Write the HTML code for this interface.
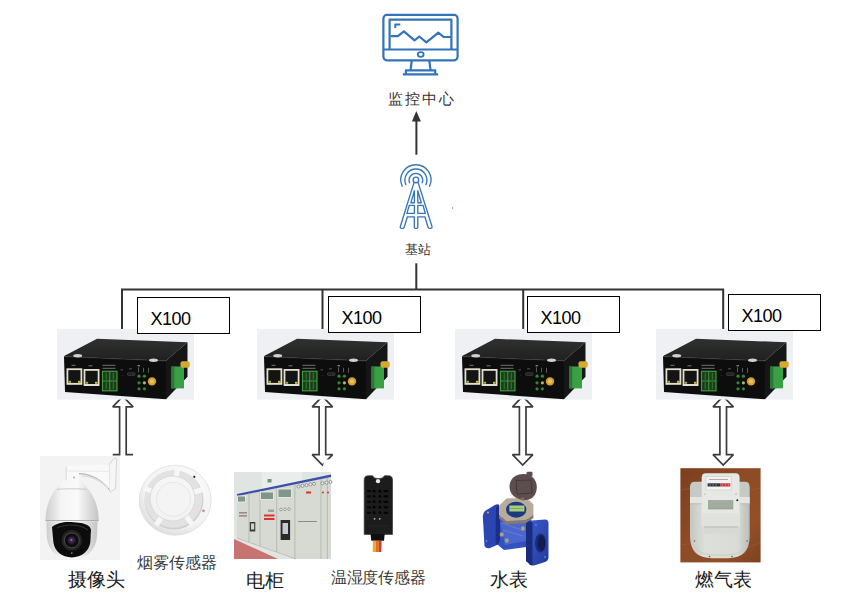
<!DOCTYPE html>
<html><head><meta charset="utf-8">
<style>
html,body{margin:0;padding:0;background:#fff;width:860px;height:607px;overflow:hidden;position:relative}
.t{position:absolute;white-space:nowrap;font-family:"Liberation Sans",sans-serif;line-height:1}
.x{position:absolute;box-sizing:border-box;border:1px solid #000;background:#fff;width:93px;height:37px}
.x span{position:absolute;left:12.5px;top:12px;font-family:"Liberation Sans",sans-serif;font-size:18px;letter-spacing:-0.5px;color:#000;line-height:1}
svg{position:absolute;left:0;top:0}
</style></head><body>
<svg id="base" width="860" height="607" viewBox="0 0 860 607">
<defs>
<symbol id="dev" viewBox="0 0 137 71" width="137" height="71">
  <rect x="0" y="0" width="137" height="71" fill="#eef0f4"/>
  <defs>
    <linearGradient id="topg" x1="0" y1="0" x2="0" y2="1">
      <stop offset="0" stop-color="#303030"/><stop offset="1" stop-color="#202020"/>
    </linearGradient>
  </defs>
  <!-- top face -->
  <path d="M7,27.6 Q8,26.5 10,25.8 L40,10 L130.5,13.5 L109,32 Z" fill="url(#topg)"/>
  <!-- right side -->
  <polygon points="109,32 130.5,13.5 130.5,48 109,70.4" fill="#161616"/>
  <!-- front face -->
  <polygon points="7,27.6 109,32 109,70.4 8,63.2" fill="#0d0d0d"/>
  <path d="M7.5,27.8 L109,32.2" stroke="#3a3a3a" stroke-width="0.6"/>
  <ellipse cx="20.7" cy="27" rx="4.5" ry="1.7" fill="#d0d0d0"/>
  <ellipse cx="96.5" cy="31.4" rx="4.5" ry="1.7" fill="#d0d0d0"/>
  <!-- rj45 -->
  <rect x="9.5" y="39.5" width="15.8" height="16.5" fill="#e2dfcf"/>
  <rect x="11.3" y="41.3" width="12.2" height="12.8" fill="#141414"/>
  <rect x="26.6" y="40.2" width="15.9" height="17" fill="#e2dfcf"/>
  <rect x="28.4" y="42" width="12.3" height="13.2" fill="#141414"/>
  <rect x="11.5" y="52" width="2.5" height="2" fill="#9ab83a"/>
  <rect x="21" y="52" width="2.5" height="2" fill="#d8c030"/>
  <rect x="28.6" y="53" width="2.5" height="2" fill="#9ab83a"/>
  <rect x="38" y="53" width="2.5" height="2" fill="#d8c030"/>
  <path d="M14.5,36.5h4M31.5,37h4" stroke="#777" stroke-width="1"/>
  <!-- terminal -->
  <rect x="45.5" y="42.5" width="14.5" height="19.5" fill="#1c3a1c" stroke="#3c9c3c" stroke-width="1.2"/>
  <path d="M52.75,43v18.5M45.5,52.2h14.5" stroke="#3c9c3c" stroke-width="1"/>
  <path d="M49.2,44v7M56.3,44v7M49.2,53.5v7M56.3,53.5v7" stroke="#2e7a2e" stroke-width="1.1"/>
  <path d="M45.5,36.5h13M45.5,39.5h13" stroke="#8a8a8a" stroke-width="0.8"/>
  <rect x="70.5" y="44" width="7.5" height="2.6" rx="0.8" fill="#202020" stroke="#505050" stroke-width="0.6"/>
  <path d="M63.5,41h2.5M72,40h3" stroke="#666" stroke-width="0.8"/>
  <circle cx="65.5" cy="47" r="0.8" fill="#2a2a2a"/>
  <!-- leds -->
  <circle cx="82" cy="47.4" r="1.6" fill="#2f8a2f"/>
  <circle cx="87.4" cy="47.4" r="1.6" fill="#2f8a2f"/>
  <circle cx="82" cy="54" r="1.6" fill="#2f8a2f"/>
  <circle cx="87.4" cy="54" r="1.6" fill="#c0a878"/>
  <circle cx="82" cy="60" r="1.6" fill="#2f8a2f"/>
  <circle cx="87.4" cy="60" r="1.6" fill="#2f8a2f"/>
  <path d="M81.5,43.5v-5M86.5,43.5v-4.5M91.5,44v-5" stroke="#7a7a7a" stroke-width="0.7"/>
  <path d="M80.5,37h2.5" stroke="#aaa" stroke-width="1"/>
  <circle cx="95" cy="52.6" r="4.2" fill="#d0a030"/>
  <circle cx="95" cy="52.6" r="2.2" fill="#e8c060"/>
  <!-- right green block -->
  <rect x="114.3" y="37.7" width="12.7" height="21.9" fill="#3aa046"/>
  <rect x="114.3" y="37.7" width="3" height="21.9" fill="#2a7833"/>
  <rect x="123.5" y="32.5" width="9.2" height="6.5" rx="2" fill="#d4aa30"/>
  <path d="M114,27 L122,20" stroke="#333" stroke-width="1.2"/>
</symbol>
</defs>

<!-- monitor icon -->
<g fill="none" stroke="#3473bc" stroke-width="2.2" stroke-linejoin="round">
  <rect x="383.4" y="14.9" width="74.2" height="45.4" rx="3.5"/>
  <path d="M389.6,49.5V19.6H451.4V49.5"/>
  <path d="M383.7,49.5H457.6"/>
  <ellipse cx="420.7" cy="54.5" rx="2.9" ry="2.3" stroke-width="1.8"/>
  <path d="M411.8,60.5L410.5,70.3M429.3,60.5L430.6,70.3"/>
  <path d="M405.9,74.3V70.3H435.2V74.3"/>
  <path d="M402.9,74.3H438.1"/>
  <path d="M390.8,36.1H397.9L403.9,31.4L414.5,40.3L419.3,36.5L426.4,42.4L438.3,32.7L443.6,37H451.3"/>
  <path d="M395.3,28V24.5H400.3" stroke-width="1.9"/>
</g>

<!-- arrow up to monitor -->
<path d="M416.4,154.7V120" stroke="#333" stroke-width="2"/>
<polygon points="416.3,110.9 420.9,121.5 411.9,121.5" fill="#333"/>

<!-- tower icon -->
<g fill="none" stroke="#3775be" stroke-width="1.35" stroke-linecap="round" stroke-linejoin="round">
  <circle cx="415.9" cy="179.9" r="2.8"/>
  <path d="M409.6,182.8A6.8,6.8 0 1 1 422.2,182.8"/>
  <path d="M405.9,184.6A11,11 0 1 1 425.9,184.6"/>
  <path d="M402.2,186.2A15.1,15.1 0 1 1 429.6,186.2"/>
  <path d="M413.9,182.9L400.3,226.5Q400,228.3 401.6,228.3H403Q404,228.3 404.3,227L407.4,216.8H414.3V227.3Q414.3,228.3 415.3,228.3H416.8Q417.8,228.3 417.8,227.3V216.8H424.9L428,227Q428.3,228.3 429.3,228.3H430.7Q432.3,228.3 432,226.5L418.2,182.9"/>
  <path d="M409.3,205.3H414.4V213.4H406.9Z"/>
  <path d="M417.8,205.3H423L425.3,213.4H417.8Z"/>
  <path d="M414.4,190.6V202.7H410.9Z"/>
  <path d="M417.8,190.6V202.7H421.3Z"/>
</g>
<rect x="452" y="207" width="1.2" height="2" fill="#8ab0dc"/>

<!-- bus -->
<g stroke="#333" stroke-width="2" fill="none">
  <path d="M416.3,263.3V289.5"/>
  <path d="M122,331V289.5H723.2V331"/>
  <path d="M322.5,289.5V331"/>
  <path d="M523.2,289.5V331"/>
</g>

<!-- hollow arrows -->
<g fill="#fff" stroke="#3c3c3c" stroke-width="1.7" stroke-linejoin="miter" stroke-miterlimit="2">
  <path fill="none" d="M133.1,454.6H126.2V406.8H133.1L122.9,396.3L112.7,406.8H119.6V454.6H112.7"/>
  <path d="M322.4,396.3L332.6,406.8H325.7V454.6H332.6L322.4,465.1L312.2,454.6H319.1V406.8H312.2Z"/>
  <path d="M522.7,396.3L532.9,406.8H526.0V454.6H532.9L522.7,465.1L512.5,454.6H519.4V406.8H512.5Z"/>
  <path d="M723.2,396.3L733.4,406.8H726.5V454.6H733.4L723.2,465.1L713.0,454.6H719.9V406.8H713.0Z"/>
</g>

<polygon points="323.4,466 323.4,462 326,459.6 345,459.6 345,471 323.4,471" fill="#fff"/>
<!-- camera -->
<g id="camera">
  <rect x="40" y="456" width="80" height="104" fill="#f3f3f3"/>
  <defs>
    <linearGradient id="domeg" x1="0" y1="0" x2="1" y2="0">
      <stop offset="0" stop-color="#cdcdcd"/><stop offset="0.3" stop-color="#f5f5f5"/><stop offset="0.6" stop-color="#fafafa"/><stop offset="1" stop-color="#c4c4c4"/>
    </linearGradient>
    <radialGradient id="lensg" cx="0.45" cy="0.45" r="0.6">
      <stop offset="0" stop-color="#b080d0"/><stop offset="0.3" stop-color="#402858"/><stop offset="1" stop-color="#141414"/>
    </radialGradient>
  </defs>
  <!-- wall plate -->
  <path d="M109,464.7 L114.3,458.2 Q116.6,457.8 116.6,460 L115.5,488.5 L110.5,492 Q109.5,492 109.5,490 Z" fill="#f6f6f6" stroke="#c0c0c0" stroke-width="0.6"/>
  <!-- arm -->
  <path d="M66.4,467 Q66.6,465.9 68,465.9 L109,464.7 L109.7,490 C103,482 95,474 79,473.2 L79,480.5 L66,480.5 Z" fill="#f9f9f9"/>
  <path d="M79,473.6 C95,474.5 103,482 109.7,490" fill="none" stroke="#b8b8b8" stroke-width="1.1"/>
  <path d="M82,476 C95,477 102,482.5 108,488" fill="none" stroke="#dcdcdc" stroke-width="1.2"/>
  <path d="M66.7,471 L109,471.3" stroke="#e4e4e4" stroke-width="0.8"/>
  <path d="M66.2,466.5 V480.5" stroke="#d4d4d4" stroke-width="0.8"/>
  <circle cx="74" cy="477.5" r="0.9" fill="#a8a8a8"/>
  <!-- dome -->
  <path d="M45.5,520.5 C45.5,503 53,490 63.4,480.5 H80.3 C91,490 98.7,503 98.7,520.5 Z" fill="url(#domeg)"/>
  <path d="M57,489.4 C64,488.6 80,488.6 86.7,489.4" fill="none" stroke="#c0c0c0" stroke-width="0.8"/>
  <path d="M45.5,520.6 H98.7" stroke="#a8a8a8" stroke-width="1"/>
  <!-- lower housing -->
  <path d="M46.4,521.3 H97.5 L97,536 C96,551 85,559.5 71.8,559.5 C58.5,559.5 47.6,551 46.8,536 Z" fill="url(#domeg)"/>
  <!-- black front -->
  <path d="M52,527 C56,523.5 62,522 68.3,522 C76,522 83,523 86.7,524.8 C89,526 90.5,527.5 91,529.8 L90.3,542.5 C89,551 81.5,557.4 71.8,557.4 C62,557.4 54.5,551 53.4,542.5 Z" fill="#0c0c0c"/>
  <path d="M57,528 C66,523.5 80,524 88,530" fill="none" stroke="#3c3c3c" stroke-width="0.9"/>
  <circle cx="71.8" cy="540.4" r="10.3" fill="#242424"/>
  <circle cx="71.8" cy="540.4" r="7.5" fill="#0e0e0e" stroke="#505050" stroke-width="0.9"/>
  <circle cx="71.8" cy="540.4" r="4.2" fill="url(#lensg)"/>
  <circle cx="71.8" cy="553.1" r="0.9" fill="#4090d0"/>
</g>

<!-- smoke detector -->
<g id="smoke">
  <defs>
    <radialGradient id="smk" cx="0.6" cy="0.35" r="0.75">
      <stop offset="0" stop-color="#fdfdfd"/><stop offset="0.7" stop-color="#f3f3f3"/><stop offset="1" stop-color="#d2d2d2"/>
    </radialGradient>
    <radialGradient id="smkc" cx="0.55" cy="0.4" r="0.7">
      <stop offset="0" stop-color="#fafafa"/><stop offset="0.85" stop-color="#f2f2f2"/><stop offset="1" stop-color="#dadada"/>
    </radialGradient>
  </defs>
  <ellipse cx="175.2" cy="500.2" rx="36" ry="35" fill="url(#smk)" stroke="#dedede" stroke-width="0.8"/>
  <circle cx="174" cy="500" r="29.5" fill="#cfcfcf"/>
  <circle cx="173.6" cy="499" r="28.8" fill="#e2e2e2"/>
  <path d="M176.1,478.7L177.3,468.7M193.4,492.7L202.8,489.4M186.1,516.3L192.2,524.3M161.8,516.9L156.2,525.2M153.9,492.0L144.6,488.4" stroke="#f7f7f7" stroke-width="5"/>
  <circle cx="172.5" cy="498.5" r="22.5" fill="url(#smkc)" stroke="#d6d6d6" stroke-width="0.8"/>
  <circle cx="173.5" cy="499.2" r="17" fill="#f4f4f4" stroke="#e2e2e2" stroke-width="0.8"/>
  <circle cx="194.3" cy="476.8" r="1.1" fill="#1a1a1a"/>
  <circle cx="203.5" cy="510.8" r="1.4" fill="#c89090"/>
</g>

<!-- electrical cabinet -->
<g id="cabinet">
  <rect x="234" y="472" width="97" height="87" fill="#dfe5e3"/>
  <rect x="262" y="472" width="40" height="20" fill="#e9edec"/>
  <polygon points="234,539 234,559 278,559" fill="#c87272"/>
  <polygon points="237,495.5 331,476.5 331,559 296,559 237,538" fill="#d6dad3"/>
  <polygon points="237,494 331,474.5 331,477 237,496.2" fill="#3d4fa8"/>
  <g stroke="#a8aca4" stroke-width="0.7" fill="none">
    <path d="M249,493V542 M260,491V546 M276.7,488V552 M294.9,485V559 M321,479V559 M327.3,478V559"/>
    <path d="M237,538 L296,559" stroke="#b4b0a8"/>
  </g>
  <rect x="237.5" y="496" width="8" height="6" fill="#7f978a" stroke="#e6eae6" stroke-width="0.9"/>
  <rect x="260.5" y="492" width="13" height="7.5" fill="#7f978a" stroke="#e6eae6" stroke-width="0.9"/>
  <rect x="278" y="489" width="13.5" height="8.5" fill="#7f978a" stroke="#e6eae6" stroke-width="0.9"/>
  <g fill="#f4f6f6" stroke="#6a7078" stroke-width="0.7"><circle cx="298.5" cy="486.5" r="1.5"/><circle cx="302.5" cy="485.8" r="1.5"/><circle cx="306.5" cy="485.1" r="1.5"/><circle cx="310.5" cy="484.4" r="1.5"/><circle cx="314" cy="483.8" r="1.5"/><circle cx="322.5" cy="483.3" r="1.5"/><circle cx="326.5" cy="482.6" r="1.5"/><circle cx="330.5" cy="482" r="1.5"/></g>
  <rect x="267.5" y="479" width="4" height="3.5" fill="#6a9a6a"/>
  <g fill="#f0f2f2" stroke="#707070" stroke-width="0.6"><circle cx="281" cy="509.5" r="1.3"/><circle cx="285" cy="509.3" r="1.3"/><circle cx="289" cy="509.1" r="1.3"/></g>
  <rect x="264" y="514.5" width="10.5" height="2" fill="#e03030"/>
  <rect x="264" y="518" width="10.5" height="2" fill="#e03030"/>
  <rect x="306" y="491.5" width="5" height="2" fill="#d83030"/>
  <circle cx="323" cy="492.5" r="1" fill="#e03030"/><circle cx="328" cy="492.5" r="1" fill="#e03030"/>
  <rect x="280.6" y="520" width="9.5" height="20" fill="#2a2a2a"/>
  <rect x="282.5" y="523" width="5.5" height="11" fill="#c8c8d0"/>
  <rect x="249.8" y="522" width="5.5" height="9.5" fill="#3a3a3a"/>
  <rect x="251" y="523.5" width="3.2" height="6" fill="#d0d4d0"/>
  <path d="M298,521.5H317" stroke="#8a8a8a" stroke-width="1"/>
  <rect x="239" y="512" width="8" height="1.6" fill="#9a8a8a"/>
  <rect x="239" y="515" width="8" height="1.6" fill="#9a8a8a"/>
  <rect x="268" y="509.5" width="6" height="2.5" fill="#a0a0a0"/>
  
</g>

<!-- temp/humidity sensor -->
<g id="temp">
  <path d="M364.2,534.4 V480 Q364.2,475.7 368.5,475.7 H372.5 Q374,478.5 377,478.5 H380 Q383,478.5 384.5,475.7 H388.3 Q392.5,475.7 392.5,480 V534.4 Z" fill="#1c1c1c" stroke="#3a3a3a" stroke-width="0.7"/>
  <circle cx="378" cy="481.2" r="2.1" fill="#ededed"/>
  <g fill="#050505"><circle cx="374.1" cy="491.2" r="1.45"/><circle cx="379.9" cy="491.2" r="1.45"/><rect x="366.8" y="490.1" width="4.2" height="2.2" rx="1.1"/><rect x="383.4" y="490.1" width="5" height="2.2" rx="1.1"/><circle cx="374.1" cy="496.4" r="1.45"/><circle cx="379.9" cy="496.4" r="1.45"/><rect x="366.8" y="495.3" width="4.2" height="2.2" rx="1.1"/><rect x="383.4" y="495.3" width="5" height="2.2" rx="1.1"/><circle cx="374.1" cy="501.8" r="1.45"/><circle cx="379.9" cy="501.8" r="1.45"/><rect x="366.8" y="500.7" width="4.2" height="2.2" rx="1.1"/><rect x="383.4" y="500.7" width="5" height="2.2" rx="1.1"/><circle cx="374.1" cy="507.3" r="1.45"/><circle cx="379.9" cy="507.3" r="1.45"/><rect x="366.8" y="506.2" width="4.2" height="2.2" rx="1.1"/><rect x="383.4" y="506.2" width="5" height="2.2" rx="1.1"/><circle cx="374.1" cy="512.8" r="1.45"/><circle cx="379.9" cy="512.8" r="1.45"/><rect x="366.8" y="511.7" width="4.2" height="2.2" rx="1.1"/><rect x="383.4" y="511.7" width="5" height="2.2" rx="1.1"/></g>
  <circle cx="374.6" cy="518.8" r="0.9" fill="#b8b8b8"/><circle cx="379.7" cy="518.8" r="0.9" fill="#b8b8b8"/>
  <path d="M368,526 H389" stroke="#2a2a2a" stroke-width="0.8"/>
  <path d="M370.6,534 H384.7 L384,540.7 H371.3 Z" fill="#0e0e0e"/>
  <path d="M373,540.7 L372.7,552 H375.5 L375.7,540.7 Z" fill="#e8b020"/>
  <path d="M375.7,540.7 L375.5,552 H378.4 L378.5,540.7 Z" fill="#e07020"/>
  <path d="M378.5,540.7 L378.4,552 H381.2 L381.6,540.7 Z" fill="#d83a20"/>
</g>

<!-- water meter -->
<g id="water">
  <defs>
    <linearGradient id="wblue" x1="0" y1="0" x2="1" y2="1">
      <stop offset="0" stop-color="#3a5ed0"/><stop offset="1" stop-color="#24399a"/>
    </linearGradient>
  </defs>
  <!-- body pipe -->
  <path d="M496,517 L531,519 L534,528 L534,546 L504,550 L493,541 Z" fill="#3352c0"/>
  <path d="M500,522 L528,524 L530,540 L505,545 Z" fill="#5a76d8" opacity="0.6"/>
  <path d="M502,523 L522,530 M503,530 L523,536" stroke="#c8a0a0" stroke-width="0.5" opacity="0.7"/>
  <!-- left flange -->
  <path d="M494.8,505 Q497,503.8 498.5,504.5 L500,508 L500,540 Q499.5,543 497,545 L489.5,548.2 Q486,549 484.5,546 L482.8,516 Q483,513 485,511 Z" fill="#2b46b4"/>
  <path d="M498.5,504.5 L500,508 L500,540 Q499.5,543 497,545 L495.5,542 L496,507 Z" fill="#1c2f85"/>
  <circle cx="488" cy="512.5" r="1.1" fill="#e0a030"/>
  <circle cx="486.5" cy="541" r="0.8" fill="#8aa0e0"/>
  <!-- bolts -->
  <ellipse cx="501.7" cy="534.5" rx="2" ry="2.3" fill="#a8a088"/>
  <ellipse cx="506.8" cy="540.5" rx="2" ry="2.3" fill="#a8a088"/>
  <ellipse cx="523" cy="528.5" rx="2" ry="2.3" fill="#a8a088"/>
  <ellipse cx="528.2" cy="534.5" rx="2" ry="2.3" fill="#a8a088"/>
  <!-- right flange -->
  <path d="M526,524 Q526.5,521 529,520.8 L545,519.5 Q548.5,519.5 548.5,523 L548.5,557 Q548.5,561 545,562 L534,565.5 Q530,566 528.5,563 L526,561 Z" fill="url(#wblue)"/>
  <path d="M526,524 Q526.5,521 529,520.8 L532.5,522.5 L532.5,565 Q530,566 528.5,563 L526,561 Z" fill="#1a2c80"/>
  <ellipse cx="540.5" cy="543" rx="5.5" ry="9.5" fill="#1d2a78"/>
  <ellipse cx="541.5" cy="543" rx="3.8" ry="7.8" fill="#131c50"/>
  <circle cx="536" cy="525" r="0.8" fill="#8aa0e0"/><circle cx="545" cy="557" r="0.8" fill="#8aa0e0"/>
  <!-- head -->
  <path d="M499,506 L506.5,498.5 L526,497.5 L533.4,504.5 L533.4,514.5 L525.5,520.5 L506,521 L499,515 Z" fill="#b7ab9b"/>
  <path d="M499,515 L506,521 L525.5,520.5 L533.4,514.5 L533.4,518 L525.5,523.5 L506,524 L499,518.5 Z" fill="#857a6e"/>
  <path d="M499,506 L506.5,498.5 L526,497.5 L533.4,504.5" fill="none" stroke="#d6ccc0" stroke-width="0.8"/>
  <ellipse cx="516.2" cy="509.7" rx="10.2" ry="8" fill="#1e3a7e"/>
  <rect x="509.4" y="505.5" width="15" height="6" fill="#a9cd7c"/>
  <path d="M510.5,508.5H523" stroke="#6a8a50" stroke-width="0.6"/>
  <!-- lid -->
  <path d="M525,500 C515,499.5 509.5,494 509.5,486.5 C509.5,478.5 516,474 523.5,474 C532,474 537,480 536.8,487.5 C536.5,495 532,500.3 525,500 Z" fill="#5c4e4e"/>
  <rect x="526.5" y="471.8" width="6" height="4.5" rx="1" fill="#5c4e4e"/>
  <path d="M516,480.5 L531,480 L532,493 L517,494 Z" fill="none" stroke="#403434" stroke-width="0.9"/>
  <path d="M519,499 L524,497 L524,501 Z" fill="#7a6a60"/>
</g>

<!-- gas meter -->
<g id="gas">
  <defs>
    <linearGradient id="wood" x1="0" y1="0" x2="1" y2="1">
      <stop offset="0" stop-color="#7c3e1e"/><stop offset="0.4" stop-color="#8c4a26"/><stop offset="0.75" stop-color="#925028"/><stop offset="1" stop-color="#7e4020"/>
    </linearGradient>
    <linearGradient id="gbody" x1="0" y1="0" x2="1" y2="0">
      <stop offset="0" stop-color="#c4c8c2"/><stop offset="0.25" stop-color="#dcdfda"/><stop offset="0.8" stop-color="#d8dbd6"/><stop offset="1" stop-color="#b8bcb6"/>
    </linearGradient>
  </defs>
  <rect x="680.4" y="468.2" width="80.2" height="94.2" fill="url(#wood)"/>
  <path d="M681,490 Q700,486 720,490 T760,488" stroke="#a46036" stroke-width="1.2" fill="none" opacity="0.5"/>
  <path d="M681,545 Q705,540 725,546 T760,542" stroke="#a46036" stroke-width="1.2" fill="none" opacity="0.5"/>
  <!-- body -->
  <path d="M690,487 Q690,481.7 695,481.7 H745 Q749.7,481.7 749.7,487 V536 Q749.7,558.2 728,558.2 H712 Q690,558.2 690,536 Z" fill="url(#gbody)"/>
  <path d="M690.5,487 Q690.5,482.2 695,482.2 H745 Q749.2,482.2 749.2,487 V497 H690.5 Z" fill="#c6cac4"/>
  <path d="M690,497 H749.7 V503.5 H690 Z" fill="#e2e5e0"/>
  <path d="M690,503.8 H749.7" stroke="#b4b8b2" stroke-width="0.8"/>
  <path d="M692.5,508 V535 Q692.5,555 712,555 H728 Q747,555 747,535 V508" fill="none" stroke="#c6c9c4" stroke-width="0.9"/>
  <circle cx="694.5" cy="541" r="0.8" fill="#666"/><circle cx="747" cy="541" r="0.8" fill="#666"/>
  <circle cx="709.5" cy="556.5" r="0.8" fill="#555"/><circle cx="732" cy="556.5" r="0.8" fill="#555"/>
  <!-- front panel -->
  <path d="M701.7,526.2 V477.5 Q701.7,473.2 706,473.2 H735.3 Q739.6,473.2 739.6,477.5 V526.2 Z" fill="#e6e8e4"/>
  <path d="M701.7,513 H739.6 V526.2 H701.7 Z" fill="#dfe2dd"/>
  <rect x="704.3" y="526.2" width="33.6" height="7.6" fill="#d6d9d4"/>
  <path d="M704.3,527 H737.9" stroke="#b0b4ae" stroke-width="0.8"/>
  <rect x="706" y="476.6" width="25.2" height="13.4" fill="#f2f2f0" stroke="#c4c4c0" stroke-width="0.5"/>
  <path d="M709,479.5 H728" stroke="#9a9aa0" stroke-width="0.8"/>
  <rect x="707.6" y="483.3" width="12.6" height="3.2" fill="#303040"/>
  <path d="M709.5,484.9h1.2M712.5,484.9h1.2M715.5,484.9h1.2" stroke="#ddd" stroke-width="0.7"/>
  <rect x="720.2" y="483.3" width="10.1" height="3.2" fill="#c83848"/>
  <path d="M722,484.9h1.2M725,484.9h1.2M728,484.9h1.2" stroke="#f0c0c0" stroke-width="0.7"/>
  <rect x="708.5" y="500.7" width="24.4" height="8.3" fill="#a2ab9f" stroke="#8a9488" stroke-width="0.6"/>
  <circle cx="737.3" cy="500.3" r="1" fill="#222"/>
  <circle cx="705" cy="494" r="0.6" fill="#888"/><circle cx="736" cy="494" r="0.6" fill="#888"/>
</g>

<!-- devices -->
<use href="#dev" x="57" y="328.8"/>
<use href="#dev" x="257" y="328.8"/>
<use href="#dev" x="455" y="328.8"/>
<use href="#dev" x="656" y="328.8"/>
</svg>

<div class="x" style="left:137px;top:297px"><span>X100</span></div>
<div class="x" style="left:328px;top:296px"><span>X100</span></div>
<div class="x" style="left:527px;top:296px"><span>X100</span></div>
<div class="x" style="left:728px;top:294px"><span>X100</span></div>

<div class="t" style="left:388px;top:90.5px;font-size:15px;letter-spacing:1.9px;color:#353030">监控中心</div>
<div class="t" style="left:404.5px;top:243px;font-size:13px;letter-spacing:0.5px;color:#353030">基站</div>

<div class="t" style="left:68px;top:570px;font-size:19px;color:#1a1a1a">摄像头</div>
<div class="t" style="left:137px;top:555px;font-size:15.6px;color:#3a3a3a">烟雾传感器</div>
<div class="t" style="left:246px;top:570.5px;font-size:19px;color:#1a1a1a">电柜</div>
<div class="t" style="left:331px;top:569.5px;font-size:16px;letter-spacing:-0.3px;color:#3a3a3a">温湿度传感器</div>
<div class="t" style="left:490px;top:570px;font-size:19px;color:#1a1a1a">水表</div>
<div class="t" style="left:694.5px;top:570px;font-size:19.2px;color:#1a1a1a">燃气表</div>
</body></html>
